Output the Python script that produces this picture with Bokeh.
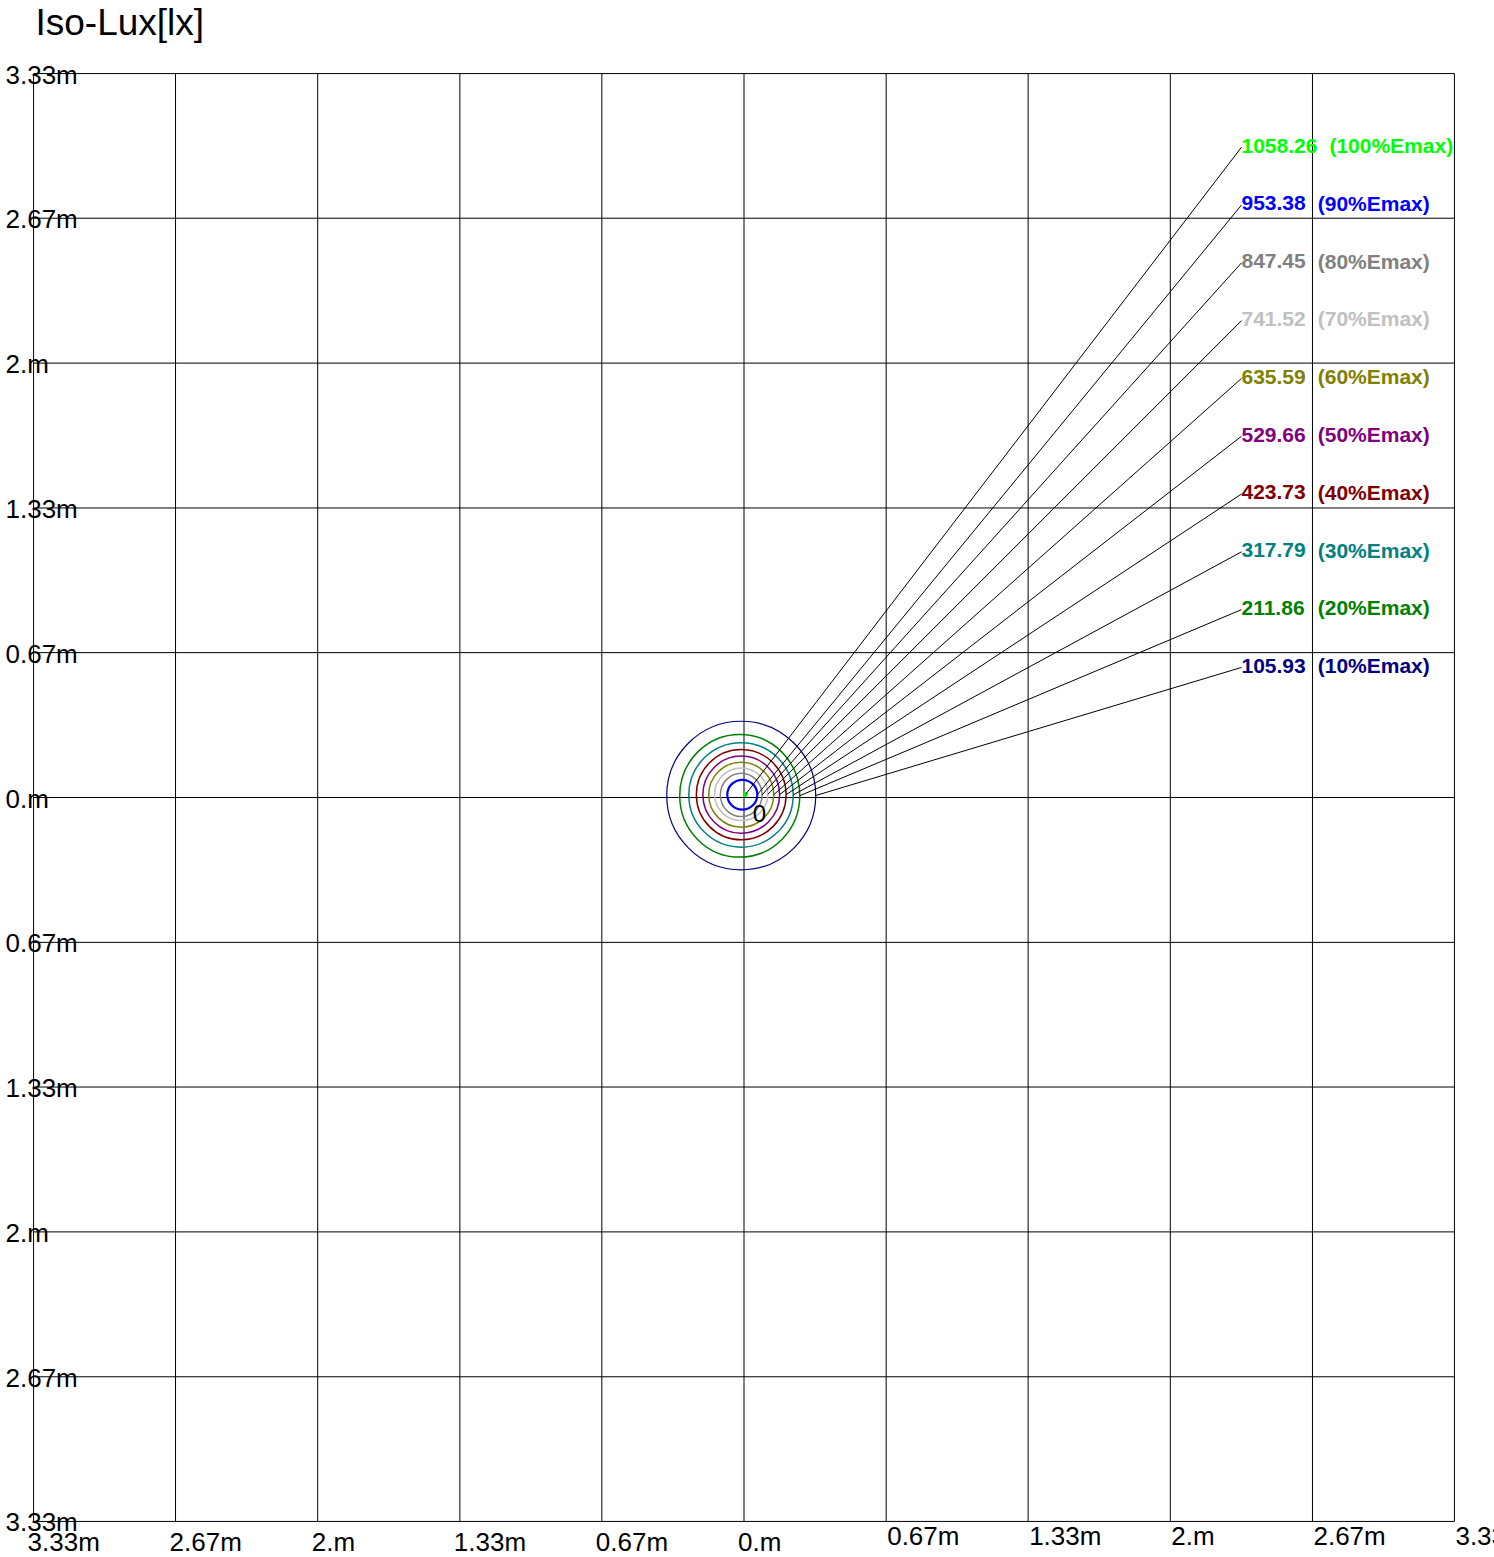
from bokeh.plotting import figure
from bokeh.models import Range1d, ColumnDataSource
from bokeh.core.properties import value
from bokeh.embed import file_html
from bokeh.resources import INLINE

# ---------------- data ----------------
grid_m = [-3.333, -2.667, -2.0, -1.333, -0.667, 0.0, 0.667, 1.333, 2.0, 2.667, 3.333]
tick_labels = ["3.33m", "2.67m", "2.m", "1.33m", "0.67m", "0.m",
               "0.67m", "1.33m", "2.m", "2.67m", "3.33m"]

level_pct = [100, 90, 80, 70, 60, 50, 40, 30, 20, 10]
level_lux = ["1058.26", "953.38", "847.45", "741.52", "635.59",
             "529.66", "423.73", "317.79", "211.86", "105.93"]
level_colors = ["#00FF00", "#0000FF", "#808080", "#C0C0C0", "#808000",
                "#800080", "#800000", "#008080", "#008000", "#000080"]

# iso-lux contours (90% .. 10%), ellipse centre and size in metres
cont_cx = [-0.008, -0.013, -0.013, -0.013, -0.013, -0.013, -0.014, -0.020, -0.013]
cont_cy = [0.013, 0.012, 0.015, 0.013, 0.013, 0.013, 0.012, 0.008, 0.009]
cont_w = [0.141, 0.196, 0.250, 0.305, 0.360, 0.421, 0.490, 0.563, 0.699]
cont_h = [0.137, 0.199, 0.243, 0.299, 0.355, 0.416, 0.481, 0.565, 0.684]

# maximum point (Emax)
max_x = [0.007]
max_y = [0.014]

title = "Iso-Lux[lx]"

# ---------------- figure ----------------
SX, SY = 213.15, 217.2          # px per metre
X0, X1 = -743.5 / SX, (1494 - 743.5) / SX
Y0, Y1 = (797 - 1557) / SY, 797 / SY
p = figure(width=1494, height=1557, x_range=Range1d(X0, X1), y_range=Range1d(Y0, Y1),
           output_backend="svg", toolbar_location=None, min_border=0,
           x_axis_location=None, y_axis_location=None, title=None,
           outline_line_color=None, background_fill_color="white",
           border_fill_color="white")
p.grid.grid_line_color = None

FONT = value("Liberation Sans")
g0, g1 = grid_m[0], grid_m[-1]

# grid lines
p.segment(x0=grid_m, y0=[g0] * len(grid_m), x1=grid_m, y1=[g1] * len(grid_m),
          line_color="#000000", line_width=1)
p.segment(x0=[g0] * len(grid_m), y0=grid_m, x1=[g1] * len(grid_m), y1=grid_m,
          line_color="#000000", line_width=1)

# title
p.text(x=[X0 + 35 / SX], y=[Y1 - 22 / SY], text=[title], text_font=FONT,
       text_font_size="37px", text_color="black", text_align="left",
       text_baseline="middle")

# left labels
p.text(x=[X0 + 5 / SX] * len(grid_m), y=grid_m, text=tick_labels, text_font=FONT,
       text_font_size="26px", text_color="black", text_align="left",
       text_baseline="middle", y_offset=1)

# bottom labels
left_idx = [i for i, g in enumerate(grid_m) if g <= 0]
right_idx = [i for i, g in enumerate(grid_m) if g > 0]
p.text(x=[grid_m[i] for i in left_idx], y=[g0] * len(left_idx),
       text=[tick_labels[i] for i in left_idx], text_font=FONT,
       text_font_size="26px", text_color="black", text_align="left",
       text_baseline="middle", x_offset=-6, y_offset=21)
p.text(x=[grid_m[i] for i in right_idx], y=[g0] * len(right_idx),
       text=[tick_labels[i] for i in right_idx], text_font=FONT,
       text_font_size="26px", text_color="black", text_align="left",
       text_baseline="middle", x_offset=1, y_offset=15)

# contours
widths = [2.2] + [1.5] * 7 + [1.2]
p.ellipse(x=cont_cx, y=cont_cy, width=cont_w, height=cont_h, fill_color=None,
          line_color=level_colors[1:], line_width=widths)
p.scatter(x=max_x, y=max_y, size=4, color="#00FF00")

# contour label "0"
p.text(x=[0.041], y=[-0.074], text=["0"], text_font=FONT, text_font_size="24px",
       text_color="black", text_align="left", text_baseline="middle")

# legend labels and leader lines
lab_x = 2.334
lab_mid = [(797 - 145) / SY - i * 57.8 / SY for i in range(len(level_pct))]
end_x = max_x + [cx + w / 2 for cx, w in zip(cont_cx, cont_w)]
end_y = max_y + cont_cy
p.segment(x0=[lab_x] * len(level_pct), y0=[m - 0.008 for m in lab_mid],
          x1=end_x, y1=end_y, line_color="black", line_width=1)

pct_text = ["(%d%%Emax)" % v for v in level_pct]
val_w = [sum(0.556 if c.isdigit() else 0.278 for c in s) * 21 + 12 for s in level_lux]
src = ColumnDataSource(dict(x=[lab_x] * len(level_pct), y=lab_mid, val=level_lux,
                            pct=pct_text, col=level_colors, off=val_w))
p.text(x="x", y="y", text="val", text_color="col", source=src, text_font=FONT,
       text_font_size="21px", text_font_style="bold", text_align="left",
       text_baseline="middle")
p.text(x="x", y="y", text="pct", text_color="col", source=src, text_font=FONT,
       text_font_size="21px", text_font_style="bold", text_align="left",
       text_baseline="middle", x_offset="off")

open("out.html", "w").write(file_html(p, INLINE))
